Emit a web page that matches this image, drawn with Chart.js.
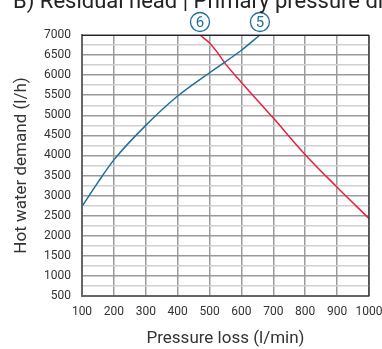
<!DOCTYPE html>
<html>
<head>
<meta charset="utf-8">
<script src="https://cdn.jsdelivr.net/npm/chart.js@4"></script>
<style>
  html, body { margin: 0; padding: 0; background: #fff; }
  #wrap { width: 382px; height: 349px; position: relative; }
</style>
</head>
<body>
<div id="wrap"><canvas id="grafico"></canvas></div>
<script>
const titulo = 'B) Residual head | Primary pressure difference';
const curva5Flujo = [100, 150, 200, 300, 400, 500, 600, 658];
const curva5Demanda = [2730, 3330, 3890, 4750, 5480, 6060, 6620, 7000];
const curva6Flujo = [470, 500, 525, 550, 600, 700, 800, 900, 1000];
const curva6Demanda = [7000, 6800, 6560, 6280, 5820, 4930, 4020, 3210, 2430];
const etiquetas = ['5', '6'];

const fuente = 'Roboto, "DejaVu Sans", sans-serif';
const grafico = document.getElementById('grafico');

// circulos numerados encima de cada curva + marco + titulo cortado
const extras = {
    id: 'extras',
    afterDraw(chart) {
        const ctx = chart.ctx;
        const area = chart.chartArea;
        ctx.save();
        ctx.strokeStyle = '#222';
        ctx.lineWidth = 1.2;
        ctx.beginPath();
        ctx.moveTo(area.left, area.top + 0.5);
        ctx.lineTo(area.right, area.top + 0.5);
        ctx.moveTo(area.right, area.top);
        ctx.lineTo(area.right, area.bottom);
        ctx.stroke();

        const puntos = [
            chart.getDatasetMeta(0).data[curva5Flujo.length - 1],
            chart.getDatasetMeta(1).data[0]
        ];
        puntos.forEach((p, i) => {
            const cy = area.top - 13;
            ctx.strokeStyle = '#1f6f9c';
            ctx.lineWidth = 1.3;
            ctx.beginPath();
            ctx.arc(p.x, cy, 9.5, 0, Math.PI * 2);
            ctx.stroke();
            ctx.fillStyle = '#1f6f9c';
            ctx.font = '15px ' + fuente;
            ctx.textAlign = 'center';
            ctx.textBaseline = 'middle';
            ctx.fillText(etiquetas[i], p.x, cy + 1);
        });

        ctx.fillStyle = '#222';
        ctx.font = '22px ' + fuente;
        ctx.textAlign = 'left';
        ctx.textBaseline = 'alphabetic';
        ctx.fillText(titulo, 13, 8);
        ctx.restore();
    }
};

new Chart(grafico, {
    type: 'line',
    data: {
        datasets: [{
            label: etiquetas[0],
            data: curva5Flujo.map((x, i) => ({ x: x, y: curva5Demanda[i] })),
            borderColor: '#1f6f9c',
            borderWidth: 1.5,
            pointRadius: 0,
            fill: false,
            cubicInterpolationMode: 'monotone'
        }, {
            label: etiquetas[1],
            data: curva6Flujo.map((x, i) => ({ x: x, y: curva6Demanda[i] })),
            borderColor: '#e8203f',
            borderWidth: 1.5,
            pointRadius: 0,
            fill: false,
            cubicInterpolationMode: 'monotone'
        }]
    },
    options: {
        responsive: true,
        maintainAspectRatio: false,
        animation: false,
        layout: { padding: { top: 35, right: 13, left: 0, bottom: 0 } },
        plugins: {
            legend: { display: false },
            tooltip: { enabled: false }
        },
        scales: {
            x: {
                type: 'linear',
                min: 100,
                max: 1000,
                afterFit(scale) {
                    scale.height = 53;
                    scale.paddingLeft = 0;
                    scale.paddingRight = 0;
                },
                ticks: {
                    stepSize: 100,
                    autoSkip: false,
                    color: '#333',
                    font: { family: fuente, size: 12 },
                    padding: 9,
                    maxRotation: 0,
                    callback: v => String(v)
                },
                grid: { color: '#9a9a9a', lineWidth: 1.5, drawTicks: false },
                border: { color: '#666', width: 2 },
                title: {
                    display: true,
                    text: 'Pressure loss (l/min)',
                    color: '#333',
                    font: { family: fuente, size: 17 },
                    padding: { top: 14, bottom: 0 }
                }
            },
            y: {
                min: 500,
                max: 7000,
                afterFit(scale) { scale.width = 82; },
                ticks: {
                    stepSize: 250,
                    color: '#333',
                    font: { family: fuente, size: 12 },
                    padding: 11,
                    autoSkip: false,
                    callback: v => (v % 500 === 0 ? String(v) : '')
                },
                grid: {
                    color: c => (c.tick && c.tick.value % 500 === 0 ? '#9a9a9a' : '#d0d0d0'),
                    lineWidth: 1.5,
                    drawTicks: false
                },
                border: { color: '#666', width: 2 },
                title: {
                    display: true,
                    text: 'Hot water demand (l/h)',
                    color: '#333',
                    font: { family: fuente, size: 17 },
                    padding: { top: 12, bottom: 2 }
                }
            }
        }
    },
    plugins: [extras]
});
</script>
</body>
</html>
